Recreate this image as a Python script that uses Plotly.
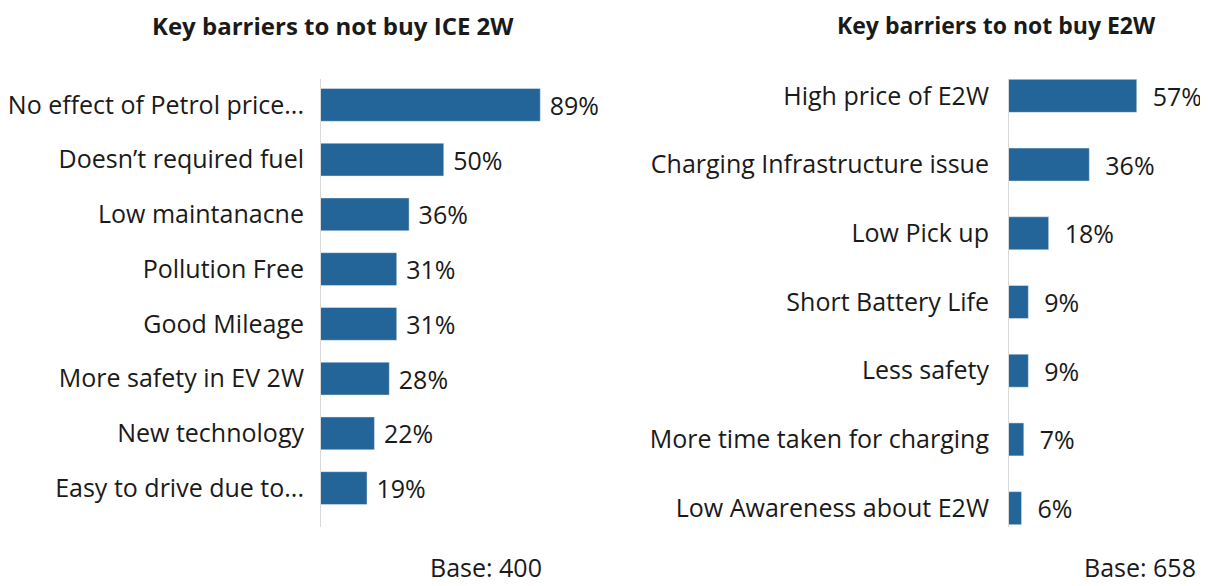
import plotly.graph_objects as go

# page has an 8px body margin; figure sized to fill the rest of the window
OFF = 8
W, H = 1208 - OFF, 586 - OFF

ice_cats = ["No effect of Petrol price...", "Doesn\u2019t required fuel", "Low maintanacne",
            "Pollution Free", "Good Mileage", "More safety in EV 2W",
            "New technology", "Easy to drive due to..."]
ice_vals = [89, 50, 36, 31, 31, 28, 22, 19]

e2w_cats = ["High price of E2W", "Charging Infrastructure issue", "Low Pick up",
            "Short Battery Life", "Less safety", "More time taken for charging",
            "Low Awareness about E2W"]
e2w_vals = [57, 36, 18, 9, 9, 7, 6]

titles = ["Key barriers to not buy ICE 2W", "Key barriers to not buy E2W"]
bases = ["Base: 400", "Base: 658"]

BAR = "#236499"
TXT = "#1a1a1a"
FONT = "Open Sans"
LBL = 25

def px(x):
    return (x - OFF) / W

def py(y):
    return 1 - (y - OFF) / H

fig = go.Figure()
fig.add_trace(go.Bar(
    x=ice_vals, y=ice_cats, orientation="h", marker_color=BAR, width=0.6,
    text=[f"\u00a0{v}%" for v in ice_vals], textposition="outside", constraintext="none",
    textfont=dict(size=LBL, color=TXT, family=FONT), cliponaxis=False,
    xaxis="x", yaxis="y", showlegend=False))
fig.add_trace(go.Bar(
    x=e2w_vals, y=e2w_cats, orientation="h", marker_color=BAR, width=0.48,
    text=[f"\u00a0\u00a0{v}%" for v in e2w_vals], textposition="outside", constraintext="none",
    textfont=dict(size=LBL, color=TXT, family=FONT), cliponaxis=False,
    xaxis="x2", yaxis="y2", showlegend=False))

fig.update_layout(
    width=W, height=H, margin=dict(l=0, r=0, t=0, b=0),
    paper_bgcolor="white", plot_bgcolor="white",
    font=dict(family=FONT, color=TXT),
    uniformtext=dict(mode=False),
    xaxis=dict(domain=[px(320), px(617)], range=[0, 120], visible=False, fixedrange=True),
    yaxis=dict(domain=[py(515.5), py(77.5)], autorange="reversed", showline=False,
               showgrid=False, ticks="", ticklabelstandoff=15, automargin=False,
               tickfont=dict(size=LBL, color=TXT, family=FONT), anchor="x"),
    xaxis2=dict(domain=[px(1008), px(1200)], range=[0, 85], visible=False, fixedrange=True),
    yaxis2=dict(domain=[py(542.5), py(61.5)], autorange="reversed", showline=False,
                showgrid=False, ticks="", ticklabelstandoff=18, automargin=False,
                tickfont=dict(size=LBL, color=TXT, family=FONT), anchor="x2"),
)

# axis lines
for xr in ["x", "x2"]:
    fig.add_shape(type="line", xref=xr, yref="paper", x0=0, x1=0,
                  y0=py(79), y1=py(527), line=dict(color="#d9d9d9", width=2))

fig.add_annotation(text=f"<b>{titles[0]}</b>", x=px(333), y=py(8), xref="paper", yref="paper",
                   showarrow=False, font=dict(size=24, color=TXT, family=FONT),
                   xanchor="center", yanchor="top", borderpad=0)
fig.add_annotation(text=f"<b>{titles[1]}</b>", x=px(996), y=py(8), xref="paper", yref="paper",
                   showarrow=False, font=dict(size=23, color=TXT, family=FONT),
                   xanchor="center", yanchor="top", borderpad=0)
fig.add_annotation(text=bases[0], x=px(486), y=py(586), xref="paper", yref="paper",
                   showarrow=False, font=dict(size=25, color=TXT, family=FONT),
                   xanchor="center", yanchor="bottom", borderpad=0, yshift=1)
fig.add_annotation(text=bases[1], x=px(1140), y=py(586), xref="paper", yref="paper",
                   showarrow=False, font=dict(size=25, color=TXT, family=FONT),
                   xanchor="center", yanchor="bottom", borderpad=0, yshift=1)

fig.write_html("out.html")
